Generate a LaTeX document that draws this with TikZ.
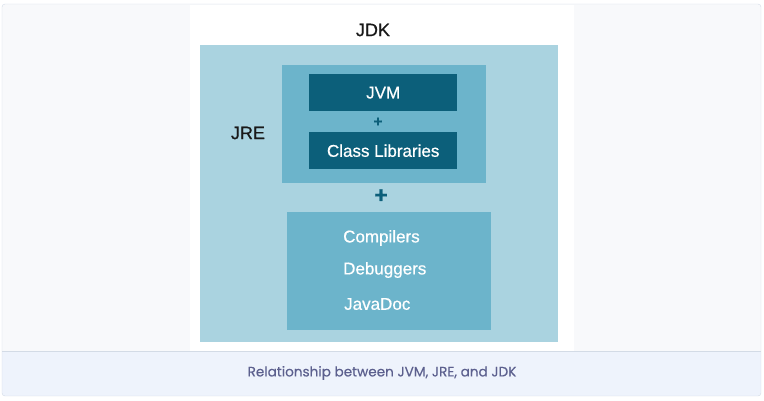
\documentclass[tikz,border=0pt]{standalone}
\usepackage{fontspec}
\setmainfont{Liberation Sans}[FakeBold=0.6]
\newfontfamily\captionfont{Poppins}[FakeBold=0.4]
\usetikzlibrary{positioning}
\definecolor{pagebg}{HTML}{F8F9FB}
\definecolor{framegray}{HTML}{D3DBE6}
\definecolor{captionbg}{HTML}{EEF3FC}
\definecolor{captiontext}{HTML}{5C608E}
\definecolor{jdkblue}{HTML}{AAD3E0}
\definecolor{jreblue}{HTML}{6CB4CB}
\definecolor{jvmblue}{HTML}{0C5F7A}
\tikzset{
		area/.style={inner sep=0pt, anchor=north west},
		jdk box/.style={area, fill=jdkblue, minimum width=358pt, minimum height=297pt},
		jre box/.style={area, fill=jreblue, minimum width=204pt, minimum height=118pt},
		dark box/.style={area, fill=jvmblue, text=white, minimum width=148pt, minimum height=37pt, font=\fontsize{17}{20}\selectfont},
		tool/.style={anchor=west, inner sep=0pt, text=white, font=\fontsize{17}{20}\selectfont},
		title/.style={inner sep=0pt, text=black!90, font=\fontsize{18}{21}\selectfont},
		plus/.style={inner sep=0pt, text=jvmblue}
	}

\begin{document}
\begin{tikzpicture}[x=1pt,y=-1pt]
				\useasboundingbox (0,0) rectangle (764,400);
				\fill[pagebg, rounded corners=3pt] (2,4) rectangle (761,396);
				\begin{scope}
					\clip[rounded corners=3pt] (2,4) rectangle (761,396);
					\fill[captionbg] (2,351) rectangle (761,396);
				\end{scope}
				\fill[white] (190,5) rectangle (574,351);
				\draw[framegray] (2,351) -- (761,351);
				\draw[framegray, rounded corners=3pt] (2,4) rectangle (761,396);

				\node[jdk box]  (jdk) at (200,45)  {};
				\node[jre box]  (jre) at (282,65)  {};
				\node[dark box] (jvm) at (309,74)  {JVM};
				\node[dark box] (cls) at (309,132) {Class Libraries};
				\node[jre box]  (tools) at (287,212) {};

				\node[title] (jdklabel) at (373,30)  {JDK};
				\node[title] (jrelabel) at (248,133) {JRE};
				\node[plus, font=\fontsize{15}{15}\selectfont\bfseries] (plusin)  at (378,122) {+};
				\node[plus, font=\fontsize{23}{23}\selectfont\bfseries] (plusout) at (381,196) {+};

				\node[tool] (compilers) at (343,238) {Compilers};
				\node[tool] (debuggers) at (343,270) {Debuggers};
				\node[tool] (javadoc)   at (344,304) {JavaDoc};

				\node[text=captiontext, font=\captionfont\fontsize{13.6}{15}\selectfont] (caption) at (382,373) {Relationship between JVM, JRE, and JDK};
			\end{tikzpicture}
\end{document}
